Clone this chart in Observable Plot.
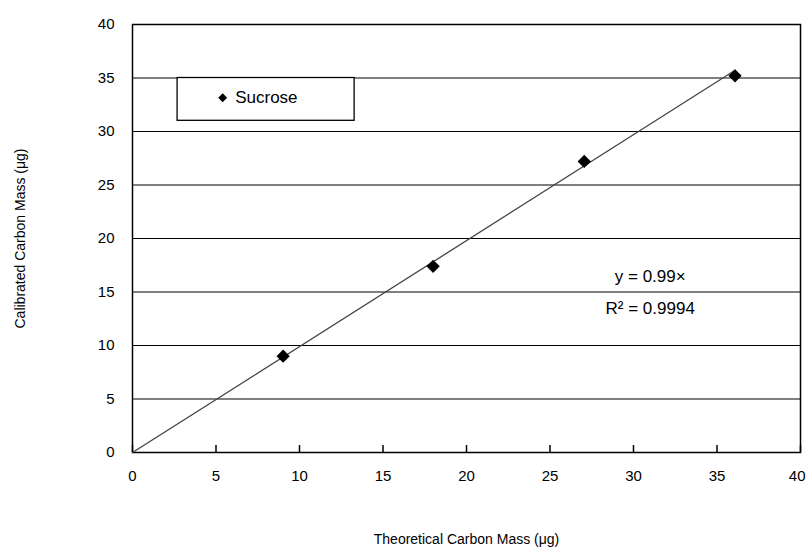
<!DOCTYPE html>
<html><head><meta charset="utf-8">
<script src="https://cdn.jsdelivr.net/npm/d3@7"></script>
<script src="https://cdn.jsdelivr.net/npm/@observablehq/plot@0.6"></script>
<style>
body{margin:0;background:#fff;}
#chart{position:relative;width:807px;height:552px;}
svg{font-family:"Liberation Sans",Arial,sans-serif;}
</style>
</head><body><div id="chart"></div>
<script>
const theoretical = [9.02, 18.0, 27.05, 36.08];
const calibrated = [9.0, 17.4, 27.2, 35.2];
const xTicks = [0, 5, 10, 15, 20, 25, 30, 35, 40];
const yTicks = [0, 5, 10, 15, 20, 25, 30, 35, 40];
const seriesName = "Sucrose";
const trendSlope = 0.99;
const equationLines = ["y = 0.99×", "R² = 0.9994"];
const xLabel = "Theoretical Carbon Mass (μg)";
const yLabel = "Calibrated Carbon Mass (μg)";

const points = theoretical.map((x, i) => ({x, y: calibrated[i]}));
const xMax = d3.max(theoretical);
const trend = [{x: 0, y: 0}, {x: xMax, y: trendSlope * xMax}];
const xLast = xTicks[xTicks.length - 1];

const W = 807, H = 552;
const mL = 132, mR = 7, mT = 24, mB = 100;

const plot = Plot.plot({
  width: W, height: H,
  marginLeft: mL, marginRight: mR, marginTop: mT, marginBottom: mB,
  style: {fontFamily: '"Liberation Sans", Arial, sans-serif', fontSize: "15px", color: "#000", background: "#fff"},
  x: {domain: [0, 40], axis: null, label: null},
  y: {domain: [0, 40], ticks: yTicks, label: null},
  marks: [
    Plot.gridY(yTicks, {stroke: "#000", strokeOpacity: 1, strokeWidth: 1.2}),
    Plot.frame({stroke: "#000", strokeWidth: 1.5}),
    // x-axis inward ticks
    Plot.ruleX(xTicks, {x: d => d, y1: 0, y2: 0.65, stroke: "#000", strokeWidth: 1.5}),
    Plot.text(xTicks.filter(d => d !== xLast), {x: d => d, y: 0, dy: 24, text: d => String(d), fontSize: 15, fill: "#000"}),
    Plot.text([xLast], {x: d => d, y: 0, dy: 24, dx: 5, textAnchor: "end", text: d => String(d), fontSize: 15, fill: "#000"}),
    Plot.axisY({ticks: yTicks, tickSize: 0, tickPadding: 18, fontSize: 15, label: null}),
    // trendline
    Plot.line(trend, {x: "x", y: "y", stroke: "#444", strokeWidth: 1.3}),
    // data
    Plot.dot(points, {x: "x", y: "y", symbol: "diamond2", r: 6, fill: "#000", stroke: "none"}),
    // legend box
    Plot.rect([seriesName], {x1: 2.7, x2: 13.3, y1: 31.0, y2: 35, fill: "#fff", stroke: "#000", strokeWidth: 1.3}),
    Plot.dot([seriesName], {x: 5.4, y: 33.15, symbol: "diamond2", r: 4, fill: "#000"}),
    Plot.text([seriesName], {x: 6.15, y: 33.15, text: d => d, textAnchor: "start", fontSize: 17, fill: "#000"}),
    // equation
    Plot.text([equationLines[0]], {x: 31.0, y: 16.4, text: d => d, fontSize: 17, fill: "#000"}),
    Plot.text([equationLines[1]], {x: 31.0, y: 13.5, text: d => d, fontSize: 17, fill: "#000"}),
    // axis labels
    Plot.text([xLabel], {x: 20, y: 0, dy: 87, text: d => d, fontSize: 14, fill: "#000"}),
    Plot.text([yLabel], {x: 0, y: 20, dx: -112, rotate: -90, text: d => d, fontSize: 14, fill: "#000"})
  ]
});
document.getElementById("chart").appendChild(plot);
</script>
</body></html>
